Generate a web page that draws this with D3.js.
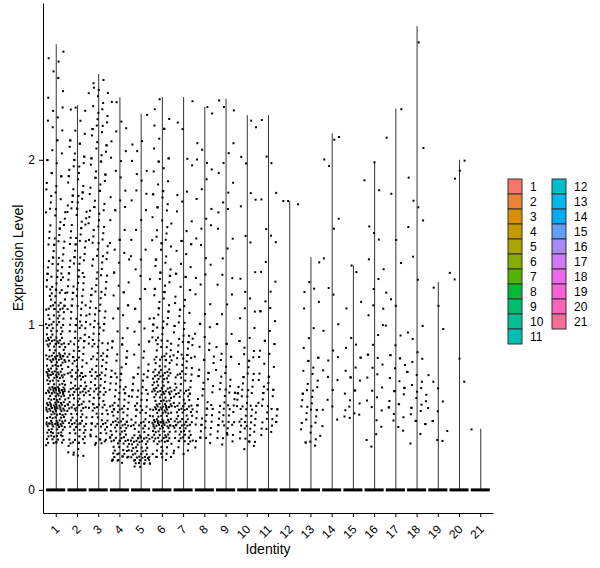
<!DOCTYPE html>
<html>
<head>
<meta charset="utf-8">
<script src="https://cdn.jsdelivr.net/npm/d3@7"></script>
<style>
  body { margin: 0; background: #fff; }
  text { font-family: "Liberation Sans", Arial, sans-serif; }
</style>
</head>
<body>
<div id="chart"></div>
<script>
'use strict'

// cluster ids
const clusters = ['1','2','3','4','5','6','7','8','9','10','11','12','13','14','15','16','17','18','19','20','21']

// top of each violin (max expression per cluster)
const vmax = [2.70, 2.33, 2.52, 2.38, 2.28, 2.38, 2.38, 2.32, 2.37, 2.27, 2.27, 1.75, 1.41, 2.16, 1.36, 1.99, 2.31, 2.81, 1.26, 2.00, 0.37]

// lowest non-zero value per cluster
const vmin = [0.27, 0.20, 0.26, 0.16, 0.14, 0.17, 0.21, 0.24, 0.27, 0.24, 0.33, 1.72, 0.25, 0.35, 0.42, 0.26, 0.33, 0.25, 0.27, 0.65, 0.36]

// lower edge of each 0.1-wide expression bin
const binLo = [0.1,0.2,0.3,0.4,0.5,0.6,0.7,0.8,0.9,1.0,1.1,1.2,1.3,1.4,1.5,1.6,1.7,1.8,1.9,2.0,2.1,2.2,2.3,2.4,2.5,2.6,2.7]

// number of non-zero cells per bin, one row per cluster
const binCounts = [
  [0,4,30,40,40,35,30,25,22,18,15,12,10,9,8,7,6,5,4,4,3,3,2,2,2,2,0],
  [0,10,18,22,22,18,16,14,12,11,10,10,9,9,8,8,8,8,8,6,4,3,1,0,0,0,0],
  [0,4,14,16,16,14,12,11,10,9,8,8,7,7,7,6,6,6,6,6,6,6,5,4,1,0,0],
  [8,22,22,18,14,10,8,6,5,4,4,4,3,3,3,3,3,2,2,2,3,1,2,0,0,0,0],
  [18,26,18,14,11,9,6,4,4,3,3,3,2,2,2,2,2,2,3,2,1,1,0,0,0,0,0],
  [4,14,30,34,30,24,17,12,10,8,8,7,6,6,6,5,5,4,4,3,3,2,2,0,0,0,0],
  [0,10,22,22,18,14,12,10,8,6,5,4,4,4,3,2,2,1,1,1,1,1,1,0,0,0,0],
  [0,3,10,10,8,6,6,5,3,3,2,2,2,2,2,2,2,2,2,2,1,1,1,0,0,0,0],
  [0,2,10,12,8,6,5,4,3,2,2,2,1,2,2,1,2,2,2,2,0,1,2,0,0,0,0],
  [0,3,12,12,10,8,6,5,3,2,2,2,1,1,1,1,1,1,1,1,1,1,0,0,0,0,0],
  [0,0,5,10,8,6,5,4,3,3,2,2,2,1,1,1,1,1,1,1,0,1,0,0,0,0,0],
  [0,0,0,0,0,0,0,0,0,0,0,0,0,0,0,0,3,0,0,0,0,0,0,0,0,0,0],
  [0,3,6,8,7,6,4,3,2,1,2,2,1,0,0,0,0,0,0,0,0,0,0,0,0,0,0],
  [0,0,1,2,2,3,2,2,1,1,1,1,1,0,0,2,0,0,1,1,2,0,0,0,0,0,0],
  [0,0,0,5,5,3,4,3,1,1,1,1,1,0,0,0,0,0,0,0,0,0,0,0,0,0,0],
  [0,2,2,2,3,4,3,3,2,2,1,2,2,1,1,1,0,2,1,0,0,0,0,0,0,0,0],
  [0,0,2,5,6,4,4,3,2,1,1,1,1,0,1,0,1,0,0,0,1,1,0,0,0,0,0],
  [0,1,3,5,6,5,3,2,1,1,0,1,0,1,1,2,1,0,1,1,0,0,0,0,0,0,1],
  [0,1,3,3,2,1,1,0,1,0,1,1,0,0,0,0,0,0,0,0,0,0,0,0,0,0,0],
  [0,0,0,0,0,1,0,1,0,0,0,1,1,0,0,0,0,0,2,1,0,0,0,0,0,0,0],
  [0,0,1,0,0,0,0,0,0,0,0,0,0,0,0,0,0,0,0,0,0,0,0,0,0,0,0]
]

const yTicks = [0, 1, 2]

////////////////////////////////////
//////////// svg setup /////////////
////////////////////////////////////

const svgWidth = 600
const svgHeight = 568
const panel = { left: 43, right: 493, top: 3, bottom: 513 }

const svg = d3.select('#chart')
    .append('svg')
    .attr('width', svgWidth)
    .attr('height', svgHeight)

// ggplot default hue palette (polar LUV, c=100, l=65)
function hueColor(h) {
    const L = 65, C = 100
    const u = C * Math.cos(h * Math.PI / 180), v = C * Math.sin(h * Math.PI / 180)
    const Xn = 95.047, Yn = 100, Zn = 108.883
    const d = Xn + 15 * Yn + 3 * Zn
    const un = 4 * Xn / d, vn = 9 * Yn / d
    const Y = Yn * Math.pow((L + 16) / 116, 3)
    const up = u / (13 * L) + un, vp = v / (13 * L) + vn
    const X = Y * 9 * up / (4 * vp)
    const Z = Y * (12 - 3 * up - 20 * vp) / (4 * vp)
    const x = X / 100, y = Y / 100, z = Z / 100
    const lin = [
        3.2404542 * x - 1.5371385 * y - 0.4985314 * z,
        -0.9692660 * x + 1.8760108 * y + 0.0415560 * z,
        0.0556434 * x - 0.2040259 * y + 1.0572252 * z
    ]
    const g = lin.map(c => {
        c = Math.max(0, Math.min(1, c))
        return Math.round(255 * (c <= 0.0031308 ? 12.92 * c : 1.055 * Math.pow(c, 1 / 2.4) - 0.055))
    })
    return d3.rgb(g[0], g[1], g[2]).formatHex()
}
const colors = clusters.map((d, i) => hueColor(15 + 360 * i / clusters.length))

////////////////////////////////////
//////////// Scales ////////////////
////////////////////////////////////

const x = d3.scalePoint()
    .domain(clusters)
    .range([panel.left, panel.right])
    .padding(0.6)

const y = d3.scaleLinear()
    .domain([-0.14, 2.95])
    .range([panel.bottom, panel.top])

const step = x.step()

////////////////////////////////////
//////////// violins ///////////////
////////////////////////////////////

const vio = svg.append('g')

// thin vertical part of each violin
vio.selectAll('line.stem')
    .data(clusters)
    .enter().append('line')
    .attr('class', 'stem')
    .attr('x1', d => x(d) + 0.5)
    .attr('x2', d => x(d) + 0.5)
    .attr('y1', y(0))
    .attr('y2', (d, i) => y(vmax[i]))
    .attr('stroke', '#333')
    .attr('stroke-width', 1)

// the wide flat part at zero
vio.selectAll('line.base')
    .data(clusters)
    .enter().append('line')
    .attr('class', 'base')
    .attr('x1', d => x(d) - step * 0.45)
    .attr('x2', d => x(d) + step * 0.45)
    .attr('y1', y(0))
    .attr('y2', y(0))
    .attr('stroke', '#000')
    .attr('stroke-width', 3)

////////////////////////////////////
//////////// points ////////////////
////////////////////////////////////

const pts = []
clusters.forEach((id, ci) => {
    let n = 0
    binCounts[ci].forEach((cnt, b) => {
        for (let k = 0; k < cnt; k++) {
            // spread the cells of a bin (jitter), slightly past the bin edges
            const u = (0.5 + (n + 1) * 0.7548776662 + ci * 0.29) % 1
            const w = (0.5 + (n + 1) * 0.5698402910 + ci * 0.13) % 1
            let v = binLo[b] - 0.02 + w * 0.14
            // fold back inside the observed range instead of piling up on the edge
            if (v < vmin[ci]) v = Math.min(vmin[ci] + (vmin[ci] - v), vmax[ci])
            if (v > vmax[ci]) v = Math.max(vmax[ci] - (v - vmax[ci]), vmin[ci])
            pts.push({ id: id, v: v, dx: (u - 0.5) * 0.92 })
            n++
        }
    })
})

svg.append('g')
    .selectAll('rect')
    .data(pts)
    .enter().append('rect')
    .attr('x', d => x(d.id) + d.dx * step - 1)
    .attr('y', d => y(d.v) - 1)
    .attr('width', 2)
    .attr('height', 2)
    .attr('fill', '#000')

////////////////////////////////////
//////////// Axis //////////////////
////////////////////////////////////

const yAxis = svg.append('g')
    .attr('transform', `translate(${panel.left},0)`)
    .call(d3.axisLeft(y).tickValues(yTicks).tickFormat(d3.format('d')).tickSize(4).tickSizeOuter(0).tickPadding(4))
yAxis.selectAll('text').attr('font-size', '12px').attr('fill', '#000')
    .style('font-family', '"Liberation Sans", Arial, sans-serif')
yAxis.selectAll('line,path').attr('stroke', '#000')

const xAxis = svg.append('g')
    .attr('transform', `translate(0,${panel.bottom})`)
    .call(d3.axisBottom(x).tickSize(4).tickSizeOuter(0))
xAxis.selectAll('line,path').attr('stroke', '#000')
xAxis.selectAll('text')
    .attr('font-size', '12px')
    .attr('fill', '#000')
    .style('font-family', '"Liberation Sans", Arial, sans-serif')
    .attr('text-anchor', 'end')
    .attr('y', 0)
    .attr('dy', 0)
    .attr('transform', 'translate(4,17) rotate(-45)')

svg.append('text')
    .attr('x', (panel.left + panel.right) / 2)
    .attr('y', 554)
    .attr('text-anchor', 'middle')
    .attr('font-size', '14px')
    .text('Identity')

svg.append('text')
    .attr('transform', `translate(23,${(panel.top + panel.bottom) / 2}) rotate(-90)`)
    .attr('text-anchor', 'middle')
    .attr('font-size', '14px')
    .text('Expression Level')

////////////////////////////////////
//////////// legend ////////////////
////////////////////////////////////

const perCol = 11
const legend = svg.append('g').attr('transform', 'translate(508,179)')
const items = legend.selectAll('g')
    .data(clusters)
    .enter().append('g')
    .attr('transform', (d, i) => `translate(${Math.floor(i / perCol) * 44},${(i % perCol) * 15})`)

items.append('rect')
    .attr('width', 14)
    .attr('height', 15)
    .attr('fill', (d, i) => colors[i])
    .attr('stroke', '#333')
    .attr('stroke-width', 1)

items.append('text')
    .attr('x', 22)
    .attr('y', 12)
    .attr('font-size', '12px')
    .text(d => d)
</script>
</body>
</html>
